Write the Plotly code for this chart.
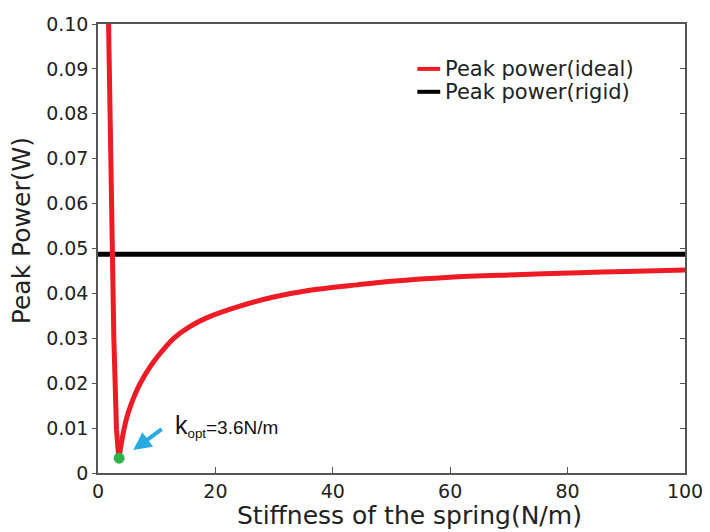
import plotly.graph_objects as go

# Peak power of the ideal spring-driven system versus spring stiffness
stiffness = [1.8, 2.0, 2.2, 2.4, 2.7, 3.15, 3.55, 3.9, 4.4, 5.0, 5.5, 6.3, 7.2,
             8.9, 10.5, 12.9, 15.5, 18.6, 24.3, 29.9, 35.6, 44.1, 50.0,
             60.0, 70.0, 82.0, 90.0, 100.0]
power_ideal = [0.100, 0.082, 0.065, 0.049, 0.030, 0.0096, 0.0033, 0.0060, 0.0096,
               0.0128, 0.0148, 0.0175, 0.0200, 0.0237, 0.0265, 0.0300,
               0.0325, 0.0346, 0.0372, 0.0392, 0.0406, 0.0419, 0.0427, 0.0436,
               0.0441, 0.0446, 0.0449, 0.0452]

# Peak power of the rigid system (constant)
rigid_x = [0, 100]
power_rigid = [0.0487, 0.0487]

# Optimal stiffness
k_opt = 3.6
p_opt = 0.0033

x_ticks = [0, 20, 40, 60, 80, 100]
y_ticks = [0, 0.01, 0.02, 0.03, 0.04, 0.05, 0.06, 0.07, 0.08, 0.09, 0.10]
y_ticktext = ["0", "0.01", "0.02", "0.03", "0.04", "0.05", "0.06", "0.07",
              "0.08", "0.09", "0.10"]

RED = "#ed1c24"
BLACK = "#000000"
AXIS = "#555555"
TEXT = "#222222"
FONT = "DejaVu Sans"

# Split the ideal curve at its minimum: steep falling branch and smooth rising branch
i_min = power_ideal.index(min(power_ideal))

fig = go.Figure()
fig.add_trace(go.Scatter(x=rigid_x, y=power_rigid, mode="lines",
                         line=dict(color=BLACK, width=5),
                         name="Peak power(rigid)", showlegend=False))
fig.add_trace(go.Scatter(x=stiffness[:i_min + 1], y=power_ideal[:i_min + 1],
                         mode="lines", line=dict(color=RED, width=5),
                         name="Peak power(ideal)", showlegend=False))
fig.add_trace(go.Scatter(x=stiffness[i_min:], y=power_ideal[i_min:],
                         mode="lines",
                         line=dict(color=RED, width=5, shape="spline", smoothing=0.8),
                         name="Peak power(ideal)", showlegend=False))
fig.add_trace(go.Scatter(x=[k_opt], y=[p_opt], mode="markers",
                         marker=dict(color="#2db34a", size=11),
                         showlegend=False))

# Arrow and label for the optimal stiffness
fig.add_annotation(x=6.0, y=0.0051, xref="x", yref="y", ax=30, ay=-22,
                   showarrow=True, arrowhead=2, arrowsize=0.9, arrowwidth=4,
                   arrowcolor="#29abe2", text="")
fig.add_annotation(x=12.8, y=0.0105, xref="x", yref="y", xanchor="left",
                   yanchor="middle", showarrow=False,
                   text="<span style='font-size:25px'>k</span><sub>opt</sub>=3.6N/m",
                   font=dict(family="Liberation Sans", size=19, color="#111111"))

# Legend drawn as short line samples with labels
legend_items = [("Peak power(ideal)", RED, 0.9), ("Peak power(rigid)", BLACK, 0.849)]
for label, color, yp in legend_items:
    fig.add_shape(type="line", xref="paper", yref="paper",
                  x0=0.544, x1=0.583, y0=yp, y1=yp,
                  line=dict(color=color, width=4))
    fig.add_annotation(x=0.588, y=yp, xref="paper", yref="paper",
                       xanchor="left", yanchor="middle", showarrow=False,
                       text=label, font=dict(family=FONT, size=21, color=TEXT))

# Axis titles
fig.add_annotation(x=0.530, y=-0.095, xref="paper", yref="paper",
                   xanchor="center", yanchor="middle", showarrow=False,
                   text="Stiffness of the spring(N/m)",
                   font=dict(family=FONT, size=25, color=TEXT))
fig.add_annotation(x=-0.13, y=0.54, xref="paper", yref="paper",
                   xanchor="center", yanchor="middle", showarrow=False,
                   text="Peak Power(W)", textangle=-90,
                   font=dict(family=FONT, size=25, color=TEXT))

fig.update_layout(
    width=710, height=532,
    margin=dict(l=97.5, r=25, t=24, b=59, autoexpand=False),
    paper_bgcolor="white", plot_bgcolor="white",
    font=dict(family=FONT, size=19, color=TEXT),
    xaxis=dict(range=[0, 100], tickvals=x_ticks, ticks="inside", ticklen=6,
               tickcolor=AXIS, showline=True, linecolor=AXIS, linewidth=1.5,
               mirror=True, showgrid=False, zeroline=False, automargin=False,
               tickfont=dict(family=FONT, size=19, color=TEXT)),
    yaxis=dict(range=[0, 0.1], tickvals=y_ticks, ticktext=y_ticktext,
               ticks="outside", ticklen=4, tickcolor=AXIS, showline=True,
               linecolor=AXIS, linewidth=1.5, showgrid=False, zeroline=False,
               automargin=False,
               tickfont=dict(family=FONT, size=19, color=TEXT)),
    yaxis2=dict(range=[0, 0.1], tickvals=y_ticks, overlaying="y", side="right",
                ticks="inside", ticklen=5, tickcolor=AXIS, showline=True,
                linecolor=AXIS, linewidth=1.5, showgrid=False, zeroline=False,
                showticklabels=False, automargin=False),
)
# Invisible trace to activate the right-hand axis
fig.add_trace(go.Scatter(x=[0], y=[0], yaxis="y2", mode="markers",
                         marker=dict(opacity=0), showlegend=False,
                         hoverinfo="skip"))

fig.write_html("out.html")
